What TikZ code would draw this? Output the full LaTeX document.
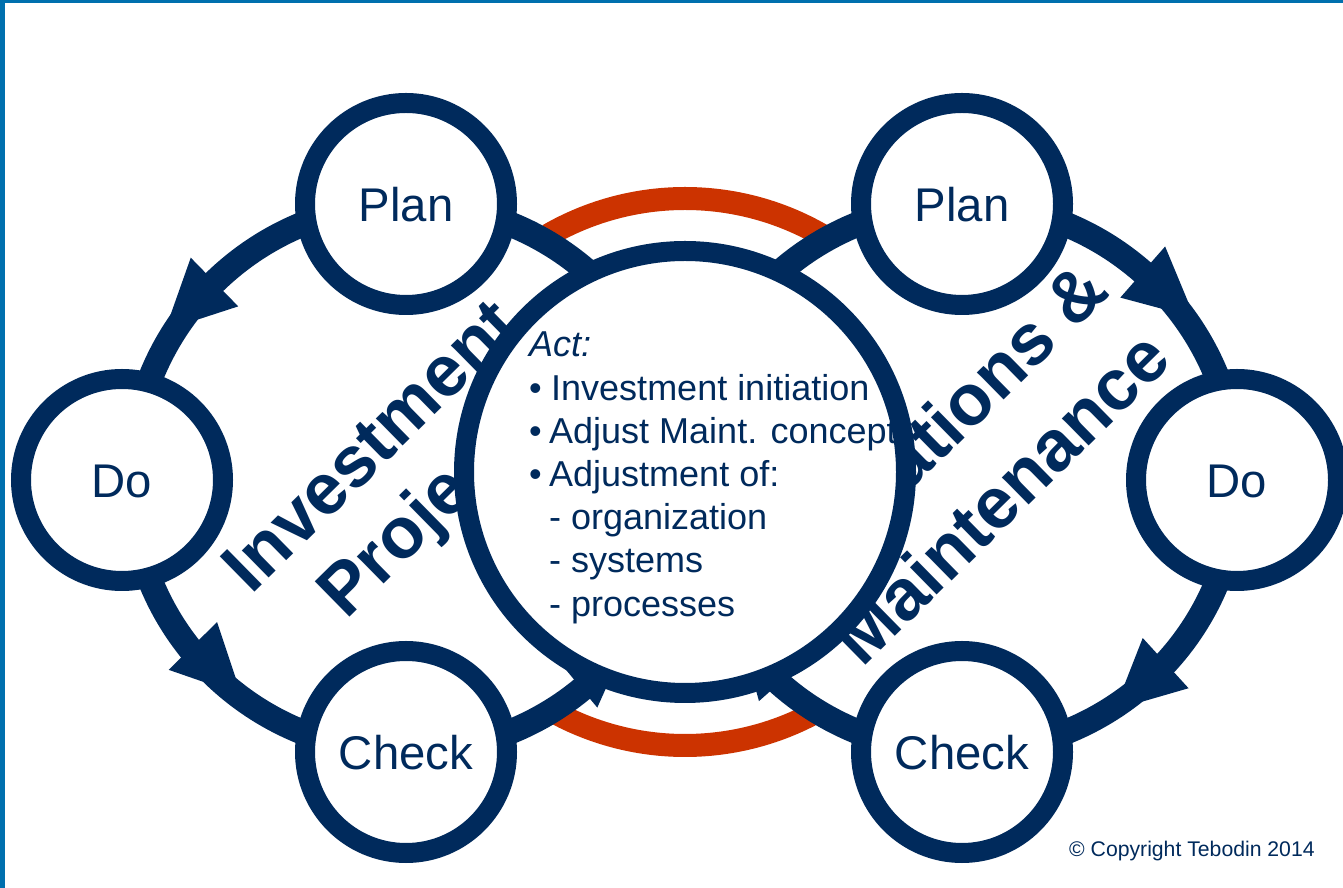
\documentclass[tikz,border=0pt]{standalone}
\usepackage{fontspec}
\setmainfont{Liberation Sans}
\usetikzlibrary{backgrounds,decorations.markings}
\definecolor{navy}{HTML}{002A5C}
\definecolor{brick}{HTML}{CC3300}
\definecolor{barblue}{HTML}{0070AE}
\tikzset{
  phase/.style={circle,draw=navy,line width=20pt,fill=white,minimum size=202pt,inner sep=0pt,
    text=navy,font=\fontsize{47.3}{50}\selectfont,text height=35pt,text depth=0pt},
  hub/.style={circle,draw=navy,line width=20pt,fill=white,minimum size=442pt,inner sep=0pt},
  flow/.style={draw=navy,line width=25pt},
  head at/.style 2 args={postaction={decorate,decoration={markings,
    mark=at position #1 with {\fill[navy,#2] (0pt,-34pt)--(69pt,0pt)--(0pt,34pt)--cycle;}}}},
  title/.style={text=navy,rotate=44.5,inner sep=0pt,
    font=\fontsize{72}{80}\selectfont\bfseries},
  actlist/.style={text=navy,align=left,inner sep=0pt,font=\fontsize{36}{43.2}\selectfont},
  redarc/.style={draw=brick,line width=23pt}
}
\newcommand{\bul}{\makebox[20pt][l]{•}}
\begin{document}
\begin{tikzpicture}[x=1pt,y=1pt]
\useasboundingbox (0,0) rectangle (1343,888);
% phase nodes
\node[phase] (lplan) at (406,684) {Plan};
\node[phase] (ldo) at (122,408) {Do};
\node[phase] (lcheck) at (406,136) {Check};
\node[phase] (rplan) at (962,684) {Plan};
\node[phase] (rdo) at (1237,408) {Do};
\node[phase] (rcheck) at (962,136) {Check};
% rotated titles, partly hidden by the hub
\node[title] (invest) at (370,443) {Investment};
\node[title] (proj) at (435,380) {Projects};
\node[title] (opera) at (937,449) {Operations \&};
\node[title] (maint) at (1000,391) {Maintenance};
% hub
\node[hub] (act) at (685,416) {};
\node[actlist,anchor=north west] (acttext) at (529,556) {\textit{Act:}\\
\bul\hspace*{2pt}Investment initiation\\
\bul Adjust Maint. concept\\
\bul Adjustment of:\\
\hspace*{20pt}- organization\\
\hspace*{20pt}- systems\\
\hspace*{20pt}- processes};
\node[text=navy,font=\fontsize{21.2}{24}\selectfont,anchor=base west,inner sep=0pt] (copy) at (1069,31) {© Copyright Tebodin 2014};
% connectors below the nodes
\begin{pgfonlayer}{background}
\fill[white] (0,0) rectangle (1343,888);
\fill[barblue] (0,885) rectangle (1343,888);
\fill[barblue] (0,0) rectangle (5,888);
\draw[redarc] ([shift={(60:273.5)}]act.center) arc[start angle=60,end angle=120,radius=273.5];
\draw[redarc] ([shift={(-60:273.5)}]act.center) arc[start angle=-60,end angle=-120,radius=273.5];
\draw[flow,head at={0.49}{}] (lplan.center) to[out=180,in=90] ([xshift=9pt]ldo.center);
\draw[flow,head at={0.424}{rotate=6,yshift=4pt}] ([xshift=9pt]ldo.center) to[out=-90,in=180] (lcheck.center);
\draw[flow,head at={0.847}{yshift=10pt}] (lcheck.center) to[out=0,in=-133,looseness=0.89] ([shift={(-78,-193.5)}]act.center);
\draw[flow] (lplan.center) to[out=0,in=133,looseness=0.89] ([shift={(-78,181.5)}]act.center);
\draw[flow,head at={0.456}{}] (rplan.center) to[out=0,in=90] (rdo.center);
\draw[flow,head at={0.468}{rotate=-5}] (rdo.center) to[out=-90,in=0] (rcheck.center);
\draw[flow,head at={0.887}{rotate=-7,yshift=-7pt}] (rcheck.center) to[out=180,in=-47,looseness=0.89] ([shift={(76,-193.5)}]act.center);
\draw[flow] (rplan.center) to[out=180,in=47,looseness=0.89] ([shift={(76,181.5)}]act.center);
\end{pgfonlayer}
\end{tikzpicture}
\end{document}
